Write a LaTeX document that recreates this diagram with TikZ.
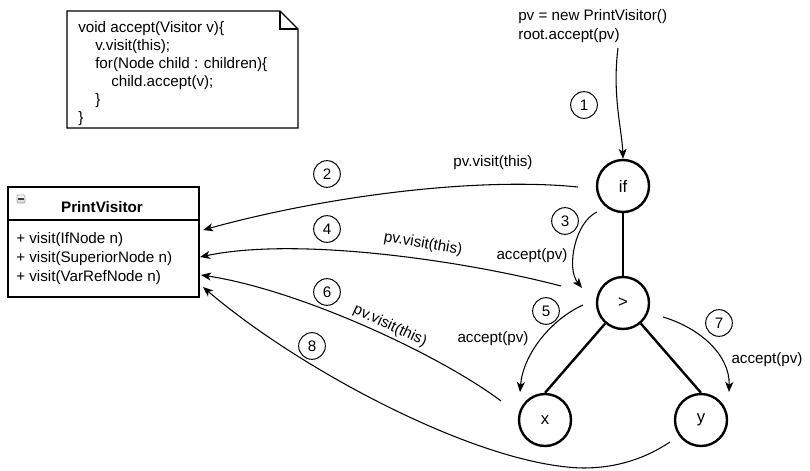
\documentclass[tikz,border=0pt]{standalone}
\usepackage{fontspec}
\setmainfont{Liberation Sans}
\usetikzlibrary{arrows.meta}
\begin{document}
\begin{tikzpicture}[x=0.75pt,y=-0.75pt,
  every node/.style={font=\fontsize{11.4pt}{13.5pt}\selectfont, inner sep=0pt},
  conn/.style={-{Stealth[length=7.5pt,width=6pt,inset=2pt]}, line width=0.8pt},
  treenode/.style={circle, draw, line width=1.8pt, minimum size=39pt, font=\fontsize{12.5pt}{15pt}\selectfont},
  treeedge/.style={line width=1.8pt},
  stepnum/.style={circle, draw, line width=0.75pt, minimum size=20pt},
  lbl/.style={},
  codeline/.style={anchor=base west},
  notebox/.style={line width=0.9pt, fill=white}
]
\useasboundingbox (0,0) rectangle (810,471);

% note
\draw[notebox] (67,11) -- (280,11) -- (298,29) -- (298,128) -- (67,128) -- cycle;
\draw[line width=0.9pt] (280,11) -- (280,29) -- (298,29);
\node[codeline] (c1) at (78,32) {void accept(Visitor v)\{};
\node[codeline] (c2) at (95,50) {v.visit(this);};
\node[codeline] (c3) at (95,68) {for(Node child : children)\{};
\node[codeline] (c4) at (111,86) {child.accept(v);};
\node[codeline] (c5) at (95,104) {\}};
\node[codeline] (c6) at (78,122) {\}};

% class box
\node[draw, line width=1.5pt, minimum width=143.25pt, minimum height=82.5pt, anchor=north west] (pv) at (7,186) {};
\draw[line width=1.3pt] (7,220) -- (198,220);
\node[draw=gray!70, rounded corners=0.8pt, top color=white, bottom color=gray!35, minimum width=6pt, minimum height=6pt, line width=0.5pt] (minus) at (21,199) {};
\draw[line width=1pt, black!75] ([xshift=-2pt]minus.center) -- ([xshift=2pt]minus.center);
\node[font=\fontsize{11.4pt}{13.5pt}\selectfont\bfseries] (title) at (102,207) {PrintVisitor};
\node[codeline] (m1) at (16,243) {+ visit(IfNode n)};
\node[codeline] (m2) at (16,262) {+ visit(SuperiorNode n)};
\node[codeline] (m3) at (16,281) {+ visit(VarRefNode n)};

% tree
\node[treenode] (if) at (623,186) {if};
\node[treenode] (gt) at (623,303) {>};
\node[treenode] (x) at (545,420) {x};
\node[treenode] (y) at (701,420) {y};
\draw[treeedge] (if) -- (gt);
\draw[treeedge] (gt) -- (x.north);
\draw[treeedge] (gt) -- (y.north);

% start text
\node[codeline] (s1) at (518,21) {pv = new PrintVisitor()};
\node[codeline] (s2) at (518,39) {root.accept(pv)};

% free ends
\coordinate (a1s) at (618,48);
\coordinate (a2s) at (578,187);
\coordinate (a2e) at (203,230);
\coordinate (a3s) at (597,212);
\coordinate (a3e) at (582,288);
\coordinate (a4s) at (561,286);
\coordinate (a4e) at (200,257);
\coordinate (a5s) at (583,305);
\coordinate (a5e) at (520,392);
\coordinate (a6s) at (501,401);
\coordinate (a6e) at (201,275);
\coordinate (a7s) at (663,317);
\coordinate (a7e) at (729,392);
\coordinate (a8s) at (670,442);
\coordinate (a8e) at (203,287);

\draw[conn] (a1s) .. controls (612,95) and (622,130) .. (if.north);
\draw[conn] (a2s) .. controls (480,177) and (330,195) .. (a2e);
\draw[conn] (a3s) .. controls (575,222) and (566,268) .. (a3e);
\draw[conn] (a4s) .. controls (470,262) and (300,236) .. (a4e);
\draw[conn] (a5s) .. controls (550,320) and (523,355) .. (a5e);
\draw[conn] (a6s) .. controls (440,355) and (300,290) .. (a6e);
\draw[conn] (a7s) .. controls (700,328) and (730,355) .. (a7e);
\draw[conn] (a8s) .. controls (640,462) and (610,468) .. (583,468) .. controls (480,466) and (300,370) .. (a8e);

% labels
\node (l2) at (493,163) {pv.visit(this)};
\node (l3) at (532,256) {accept(pv)};
\node (l4) [rotate=-10] at (423,244) {pv.visit(this)};
\node (l5) at (493,339) {accept(pv)};
\node (l6) [rotate=-25] at (390,326) {pv.visit(this)};
\node (l7) at (767,360) {accept(pv)};

% step numbers
\node[stepnum] (n1) at (584,105) {1};
\node[stepnum] (n2) at (327,174) {2};
\node[stepnum] (n3) at (565,221) {3};
\node[stepnum] (n4) at (327,229) {4};
\node[stepnum] (n5) at (546,311) {5};
\node[stepnum] (n6) at (327,292) {6};
\node[stepnum] (n7) at (719,323) {7};
\node[stepnum] (n8) at (312,346) {8};
\end{tikzpicture}
\end{document}
